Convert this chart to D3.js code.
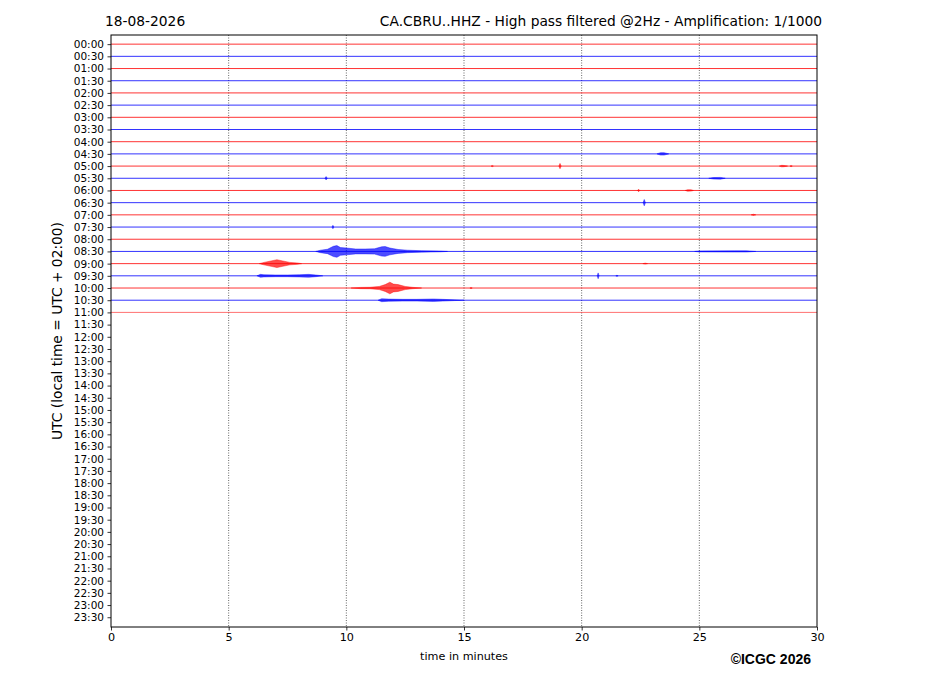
<!DOCTYPE html>
<html>
<head>
<meta charset="utf-8">
<script src="https://cdn.jsdelivr.net/npm/d3@7"></script>
<style>
  body { margin: 0; background: #fff; }
  text { font-family: "DejaVu Sans", sans-serif; fill: #000; }
</style>
</head>
<body>
<div id="chart"></div>
<script>
var svgWidth = 927;
var svgHeight = 696;

var margin = { top: 35, right: 110, bottom: 69, left: 111 };
var width = svgWidth - margin.left - margin.right;
var height = svgHeight - margin.top - margin.bottom;

// half-hour row labels (UTC)
var rowLabels = [
  "00:00","00:30","01:00","01:30","02:00","02:30","03:00","03:30",
  "04:00","04:30","05:00","05:30","06:00","06:30","07:00","07:30",
  "08:00","08:30","09:00","09:30","10:00","10:30","11:00","11:30",
  "12:00","12:30","13:00","13:30","14:00","14:30","15:00","15:30",
  "16:00","16:30","17:00","17:30","18:00","18:30","19:00","19:30",
  "20:00","20:30","21:00","21:30","22:00","22:30","23:00","23:30"
];
var xTicks = [0, 5, 10, 15, 20, 25, 30];

// rows that have data (00:00 .. 11:00)
var recordedRows = d3.range(0, 23);
var rowColors = ["#ff0000", "#0000ff"];

// envelopes: [row, [[minute, amplitude (row units)], ...]]
var events = [
  [9,  [[23.2,0],[23.35,0.1],[23.5,0.1],[23.7,0]]],
  [10, [[16.15,0],[16.2,0.05],[16.25,0]]],
  [10, [[19.03,0],[19.08,0.22],[19.13,0]]],
  [10, [[28.4,0],[28.5,0.06],[28.6,0.05],[28.75,0]]],
  [10, [[28.85,0],[28.9,0.05],[28.95,0]]],
  [11, [[9.09,0],[9.14,0.14],[9.19,0]]],
  [11, [[25.4,0],[25.6,0.06],[25.9,0.07],[26.1,0]]],
  [12, [[22.37,0],[22.42,0.1],[22.47,0]]],
  [12, [[24.4,0],[24.5,0.06],[24.65,0.05],[24.75,0]]],
  [13, [[22.61,0],[22.66,0.26],[22.71,0]]],
  [14, [[27.2,0],[27.3,0.05],[27.4,0]]],
  [15, [[9.39,0],[9.43,0.14],[9.47,0]]],
  [17, [[8.7,0],[8.9,0.1],[9.2,0.18],[9.45,0.42],[9.6,0.48],[9.75,0.32],[10.0,0.28],
        [10.4,0.2],[10.8,0.2],[11.2,0.22],[11.5,0.38],[11.65,0.4],[11.85,0.28],
        [12.2,0.16],[12.6,0.1],[13.2,0.06],[14.0,0.03],[14.3,0]]],
  [17, [[24.8,0],[25.0,0.04],[26.5,0.05],[27.0,0.05],[27.4,0]]],
  [18, [[6.3,0],[6.5,0.1],[6.8,0.22],[7.05,0.32],[7.3,0.22],[7.6,0.1],[7.9,0.06],[8.1,0]]],
  [18, [[22.6,0],[22.7,0.04],[22.8,0]]],
  [19, [[6.2,0],[6.35,0.12],[6.5,0.09],[7.0,0.07],[7.5,0.07],[8.0,0.09],[8.4,0.12],[8.7,0.07],[9.0,0]]],
  [19, [[20.66,0],[20.7,0.24],[20.74,0]]],
  [19, [[21.45,0],[21.5,0.05],[21.55,0]]],
  [20, [[10.2,0],[10.6,0.05],[11.0,0.06],[11.4,0.13],[11.65,0.28],[11.85,0.48],[12.0,0.32],
        [12.2,0.28],[12.5,0.13],[12.8,0.06],[13.2,0]]],
  [20, [[15.25,0],[15.3,0.05],[15.35,0]]],
  [21, [[11.35,0],[11.5,0.12],[11.8,0.09],[12.4,0.07],[13.0,0.07],[13.7,0.1],[14.1,0.07],[14.6,0.03],[15.0,0]]]
];

var svg = d3.select("#chart")
  .append("svg")
  .attr("width", svgWidth)
  .attr("height", svgHeight);

var chartGroup = svg.append("g")
  .attr("transform", `translate(${margin.left}, ${margin.top})`);

var xScale = d3.scaleLinear().domain([0, 30]).range([0, width]);
var yScale = d3.scaleLinear().domain([-0.75, 47.8]).range([0, height]);
var rowStep = yScale(1) - yScale(0);

// vertical dotted grid
chartGroup.selectAll(".grid")
  .data(xTicks.slice(1, -1))
  .enter().append("line")
  .attr("x1", d => xScale(d)).attr("x2", d => xScale(d))
  .attr("y1", 0).attr("y2", height)
  .attr("stroke", "#000")
  .attr("stroke-width", 0.6)
  .attr("stroke-dasharray", "1,1.5");

// trace baselines
chartGroup.selectAll(".trace")
  .data(recordedRows)
  .enter().append("line")
  .attr("x1", 0).attr("x2", width)
  .attr("y1", d => yScale(d)).attr("y2", d => yScale(d))
  .attr("stroke", d => rowColors[d % 2])
  .attr("stroke-width", d => d === 22 ? 0.8 : 1)
  .attr("stroke-opacity", d => d === 22 ? 0.7 : 0.8);

// seismic bursts
var area = d3.area()
  .x(d => xScale(d[0]))
  .y0(d => -d[1] * rowStep)
  .y1(d => d[1] * rowStep);

chartGroup.selectAll(".burst")
  .data(events)
  .enter().append("path")
  .attr("transform", d => `translate(0, ${yScale(d[0])})`)
  .attr("d", d => area(d[1]))
  .attr("fill", d => rowColors[d[0] % 2])
  .attr("fill-opacity", 0.7)
  .attr("stroke", d => rowColors[d[0] % 2])
  .attr("stroke-opacity", 0.7)
  .attr("stroke-width", 0.6);

// axes
var xAxis = d3.axisBottom(xScale).tickValues(xTicks).tickSize(3.5).tickPadding(3);
var yAxis = d3.axisLeft(yScale)
  .tickValues(d3.range(rowLabels.length))
  .tickFormat(i => rowLabels[i])
  .tickSize(3.5).tickPadding(3.5);

var gx = chartGroup.append("g")
  .attr("transform", `translate(0, ${height})`)
  .call(xAxis);
var gy = chartGroup.append("g").call(yAxis);

[gx, gy].forEach(function(g) {
  g.select(".domain").remove();
  g.selectAll("line").attr("stroke", "#000").attr("stroke-width", 0.8);
  g.selectAll("text").attr("font-family", "DejaVu Sans");
});
gx.selectAll("text").attr("font-size", 11.2);
gy.selectAll("text").attr("font-size", 10.5);

// frame
chartGroup.append("rect")
  .attr("width", width).attr("height", height)
  .attr("fill", "none")
  .attr("stroke", "#000")
  .attr("stroke-width", 1);

// titles and labels
svg.append("text")
  .attr("x", 105).attr("y", 25.5)
  .attr("font-size", 13.8)
  .text("18-08-2026");

svg.append("text")
  .attr("x", 822).attr("y", 25.5)
  .attr("text-anchor", "end")
  .attr("font-size", 13.8)
  .text("CA.CBRU..HHZ - High pass filtered @2Hz - Amplification: 1/1000");

svg.append("text")
  .attr("transform", `translate(62, ${margin.top + height / 2}) rotate(-90)`)
  .attr("text-anchor", "middle")
  .attr("font-size", 13.8)
  .text("UTC (local time = UTC + 02:00)");

svg.append("text")
  .attr("x", margin.left + width / 2).attr("y", 660)
  .attr("text-anchor", "middle")
  .attr("font-size", 11.2)
  .text("time in minutes");

svg.append("text")
  .attr("x", 811).attr("y", 664)
  .attr("text-anchor", "end")
  .attr("font-size", 14)
  .attr("font-weight", "bold")
  .style("font-family", "'Liberation Sans', Arial, sans-serif")
  .text("\u00a9ICGC 2026");
</script>
</body>
</html>
